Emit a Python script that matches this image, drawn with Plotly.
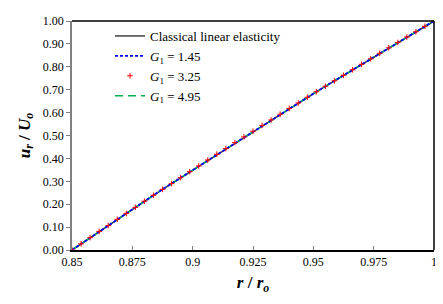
import plotly.graph_objects as go

r_ratio = [0.85, 0.85375, 0.8575, 0.86125, 0.865, 0.86875, 0.8725, 0.87625, 0.88, 0.88375,
           0.8875, 0.89125, 0.895, 0.89875, 0.9025, 0.90625, 0.91, 0.91375, 0.9175, 0.92125,
           0.925, 0.92875, 0.9325, 0.93625, 0.94, 0.94375, 0.9475, 0.95125, 0.955, 0.95875,
           0.9625, 0.96625, 0.97, 0.97375, 0.9775, 0.98125, 0.985, 0.98875, 0.9925, 0.99625, 1.0]

u_classical = [0.000, 0.027, 0.054, 0.081, 0.107, 0.134, 0.160, 0.186, 0.213, 0.239,
               0.265, 0.290, 0.316, 0.342, 0.367, 0.393, 0.418, 0.443, 0.469, 0.494,
               0.519, 0.544, 0.568, 0.593, 0.618, 0.642, 0.667, 0.691, 0.715, 0.739,
               0.763, 0.787, 0.811, 0.835, 0.859, 0.883, 0.906, 0.930, 0.953, 0.977, 1.000]
u_g145 = list(u_classical)
u_g325 = list(u_classical)
u_g495 = list(u_classical)

x_tickvals = [0.85, 0.875, 0.9, 0.925, 0.95, 0.975, 1.0]
x_ticktext = ["0.85", "0.875", "0.9", "0.925", "0.95", "0.975", "1"]

FONT = "Times New Roman, Liberation Serif, serif"

fig = go.Figure()
fig.add_trace(go.Scatter(x=r_ratio, y=u_classical, mode="lines", name="Classical linear elasticity",
                         line=dict(color="#404040", width=1.5), legendrank=1))
fig.add_trace(go.Scatter(x=r_ratio, y=u_g495, mode="lines", name="<i>G</i><sub>1</sub> = 4.95",
                         line=dict(color="#00b050", width=1.5, dash="8px,5px"), legendrank=4))
fig.add_trace(go.Scatter(x=r_ratio, y=u_g145, mode="lines", name="<i>G</i><sub>1</sub> = 1.45",
                         line=dict(color="#0000ff", width=1.8, dash="3px,2px"), legendrank=2))
fig.add_trace(go.Scatter(x=r_ratio, y=u_g325, mode="markers", name="<i>G</i><sub>1</sub> = 3.25",
                         marker=dict(symbol="cross-thin", size=4, color="#ff0000",
                                     line=dict(color="#ff0000", width=1)), legendrank=3))

fig.update_layout(
    width=435, height=296,
    margin=dict(l=64, r=9, t=6, b=54),
    paper_bgcolor="white", plot_bgcolor="white",
    font=dict(family=FONT, size=12, color="black"),
    showlegend=True,
    legend=dict(x=0.105, y=1.0, xanchor="left", yanchor="top",
                bgcolor="rgba(0,0,0,0)", font=dict(family=FONT, size=13),
                tracegroupgap=0, itemwidth=30),
    xaxis=dict(range=[0.85, 1.0], tickvals=x_tickvals, ticktext=x_ticktext,
               showgrid=False, zeroline=False, showline=True, linecolor="black", linewidth=1.5,
               mirror=False, ticks="inside", ticklen=4, tickcolor="#808080",
               tickfont=dict(family=FONT, size=12),
               title=dict(text="<b><i>r</i> / <i>r<sub>o</sub></i></b>", font=dict(family=FONT, size=17),
                          standoff=8)),
    yaxis=dict(range=[0, 1.0], dtick=0.1, tickformat=".2f", ticklabeloverflow="allow",
               showgrid=False, zeroline=False, showline=True, linecolor="#808080", linewidth=1.5,
               ticks="outside", ticklen=4, tickcolor="#808080",
               tickfont=dict(family=FONT, size=12),
               title=dict(text="<b><i>u<sub>r</sub></i> / <i>U<sub>o</sub></i></b>", font=dict(family=FONT, size=17),
                          standoff=8)),
    shapes=[dict(type="line", xref="paper", yref="paper", x0=1, x1=1, y0=0, y1=1,
                 line=dict(color="black", width=1.5)),
            dict(type="line", xref="paper", yref="paper", x0=0, x1=1, y0=1, y1=1,
                 line=dict(color="black", width=1.5))],
)

fig.write_html("out.html")
